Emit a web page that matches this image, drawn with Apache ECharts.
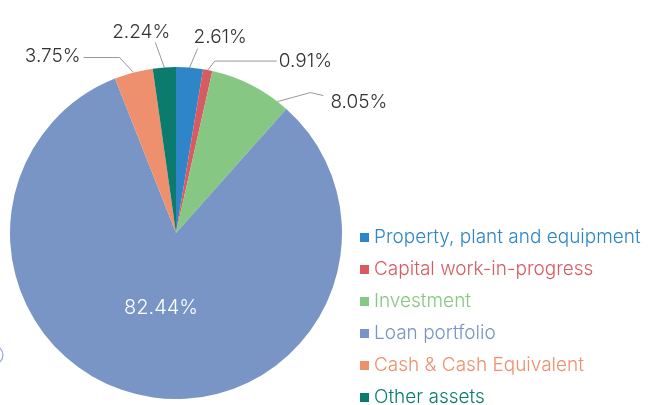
<!DOCTYPE html>
<html><head><meta charset="utf-8">
<script src="https://cdn.jsdelivr.net/npm/echarts@6/dist/echarts.min.js"></script>
<style>html,body{margin:0;padding:0;background:#fff}#c{width:648px;height:405px}</style>
</head><body><div id="c"></div>
<script>
var categories = ['Property, plant and equipment','Capital work-in-progress','Investment','Loan portfolio','Cash & Cash Equivalent','Other assets'];
var values = [2.61, 0.91, 8.05, 82.44, 3.75, 2.24];
var colors = ['#2E86C8','#D95B62','#86C883','#7895C5','#EE8F6D','#0B7B6D'];

var font = 'Inter';
var pieCenter = [176, 233];
// label guide styling: anchor rotation, elbow offset from the slice edge anchor, run, text placement
var guides = [
  {rot:0,    ex:8,  ey:-19, run:0,   rdy:0, tx:-4, ty:-11, align:'left'},
  {rot:0,    ex:7,  ey:-9,  run:62,  rdy:0, tx:2,  ty:0,   align:'left'},
  {rot:10.5, ex:33, ey:-9,  run:13,  rdy:3, tx:7,  ty:6.5, align:'left'},
  null,
  {rot:0,    ex:-14,ey:-15, run:-36, rdy:0, tx:-3, ty:-1,  align:'right'},
  {rot:0,    ex:-9, ey:-25, run:0,   rdy:0, tx:15, ty:-10, align:'right'}
];

var data = categories.map(function(n,i){
  var d = {name:n, value:values[i], itemStyle:{color:colors[i]}};
  if (i === 3) {
    d.label = {position:'inside', color:'#fff', fontSize:20};
  }
  return d;
});

var chart = echarts.init(document.getElementById('c'));
chart.setOption({
  animation:false,
  graphic:[{type:'circle', shape:{cx:-6, cy:355, r:9}, style:{fill:'none', stroke:'#8FA8D8', lineWidth:1.2}, silent:true}],
  legend:{
    orient:'vertical', left:355, top:223, height:260,
    itemWidth:9, itemHeight:9, itemGap:13, icon:'rect',
    textStyle:{fontFamily:font, fontSize:19, lineHeight:18, fontWeight:300},
    data: categories.map(function(n,i){return {name:n, textStyle:{color:colors[i]}};})
  },
  series:[{
    type:'pie', radius:166, center:pieCenter, startAngle:90, clockwise:true,
    avoidLabelOverlap:false,
    label:{formatter:function(p){return p.value.toFixed(2)+'%';}, fontFamily:font, fontSize:19, color:'#333', fontWeight:300},
    labelLine:{length:10,length2:10,lineStyle:{color:'#999', width:1}},
    labelLayout:function(p){
      var g = guides[p.dataIndex];
      if (!g) return {hideOverlap:false, dy:-10};
      if (!p.labelLinePoints) return {hideOverlap:false};
      var a0 = p.labelLinePoints[0];
      var th = g.rot*Math.PI/180;
      var vx = a0[0]-pieCenter[0], vy = a0[1]-pieCenter[1];
      var a = [pieCenter[0] + vx*Math.cos(th) - vy*Math.sin(th), pieCenter[1] + vx*Math.sin(th) + vy*Math.cos(th)];
      var e = [a[0]+g.ex, a[1]+g.ey];
      var t = [e[0]+g.run, e[1]+g.rdy];
      return {
        x: t[0]+g.tx, y: t[1]+g.ty, align:g.align, verticalAlign:'middle',
        labelLinePoints:[a, e, t], hideOverlap:false
      };
    },
    data:data
  }]
});
</script></body></html>
